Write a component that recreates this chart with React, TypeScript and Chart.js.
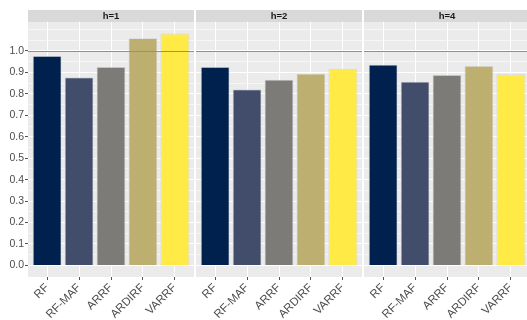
import React, { useEffect, useRef } from 'react';
import { Chart, registerables } from 'chart.js';

Chart.register(...registerables);

const categories = ['RF', 'RF-MAF', 'ARRF', 'ARDIRF', 'VARRF'];
const panelTitles = ['h=1', 'h=2', 'h=4'];
const valuesH1 = [0.977, 0.877, 0.925, 1.059, 1.081];
const valuesH2 = [0.925, 0.821, 0.866, 0.894, 0.916];
const valuesH4 = [0.936, 0.857, 0.888, 0.930, 0.891];
const barColors = ['#00204D', '#414D6B', '#7C7B78', '#BCAF6F', '#FFEA46'];
const yTickValues = [0, 0.1, 0.2, 0.3, 0.4, 0.5, 0.6, 0.7, 0.8, 0.9, 1.0];
const yTickLabels = ['0.0', '0.1', '0.2', '0.3', '0.4', '0.5', '0.6', '0.7', '0.8', '0.9', '1.0'];
const yMinorValues = [0.05, 0.15, 0.25, 0.35, 0.45, 0.55, 0.65, 0.75, 0.85, 0.95, 1.05, 1.1];
const referenceLine = 1.0;

const panelValues = [valuesH1, valuesH2, valuesH4];

const allVals = [...valuesH1, ...valuesH2, ...valuesH4];
const dataMax = Math.max(0, ...allVals);
const dataMin = Math.min(0, ...allVals);
const span = dataMax - dataMin;
const yMin = dataMin - span * 0.05;
const yMax = dataMax + span * 0.05;

const FONT = "'Liberation Sans', Arial, Helvetica, sans-serif";
const PANEL_TOP = 22;
const STRIP_TOP = 10;
const X_AXIS_H = 43;
const Y_AXIS_W = 28;

const layoutPanels = [
  { left: 0, width: 194, showY: true },
  { left: 196, width: 166, showY: false },
  { left: 364, width: 166, showY: false },
];

function isMajor(v: number) {
  return yTickValues.some((t) => Math.abs(t - v) < 1e-6);
}

function Panel({ idx }: { idx: number }) {
  const ref = useRef<HTMLCanvasElement | null>(null);
  const cfg = layoutPanels[idx];
  useEffect(() => {
    if (!ref.current) return;
    const title = panelTitles[idx];
    const values = panelValues[idx];
    const panelPlugin = {
      id: 'panelDeco',
      beforeDraw(chart: any) {
        const { ctx, chartArea } = chart;
        ctx.save();
        ctx.fillStyle = '#EBEBEB';
        ctx.fillRect(chartArea.left, chartArea.top, chartArea.right - chartArea.left, chartArea.bottom - chartArea.top);
        ctx.fillStyle = '#D9D9D9';
        ctx.fillRect(chartArea.left, STRIP_TOP, chartArea.right - chartArea.left, chartArea.top - STRIP_TOP);
        ctx.fillStyle = '#1A1A1A';
        ctx.font = `bold 9.5px ${FONT}`;
        ctx.textAlign = 'center';
        ctx.textBaseline = 'middle';
        ctx.fillText(title, (chartArea.left + chartArea.right) / 2, (STRIP_TOP + chartArea.top) / 2 + 0.5);
        ctx.restore();
      },
      afterDatasetsDraw(chart: any) {
        const { ctx, chartArea, scales } = chart;
        const y = Math.round(scales.y.getPixelForValue(referenceLine)) + 0.5;
        ctx.save();
        ctx.strokeStyle = '#8F8F8F';
        ctx.lineWidth = 1;
        ctx.beginPath();
        ctx.moveTo(chartArea.left, y);
        ctx.lineTo(chartArea.right, y);
        ctx.stroke();
        ctx.restore();
      },
    };
    const chart = new Chart(ref.current, {
      type: 'bar',
      data: {
        datasets: [
          {
            data: values.map((v, i) => ({ x: i, y: v })) as any,
            backgroundColor: barColors,
            borderColor: 'rgba(205,205,205,0.7)',
            borderWidth: 0.8,
            barPercentage: 0.9,
            categoryPercentage: 1,
          },
        ],
      },
      options: {
        animation: false,
        responsive: false,
        maintainAspectRatio: false,
        layout: { padding: { top: PANEL_TOP, left: 0, right: 0, bottom: 0 }, autoPadding: false } as any,
        plugins: { legend: { display: false }, tooltip: { enabled: false } },
        scales: {
          x: {
            type: 'linear',
            min: -0.6,
            max: categories.length - 1 + 0.6,
            offset: false,
            afterBuildTicks: (s: any) => {
              s.ticks = categories.map((_, i) => ({ value: i }));
            },
            afterFit: (s: any) => {
              s.height = X_AXIS_H;
            },
            ticks: {
              autoSkip: false,
              maxRotation: 45,
              minRotation: 45,
              padding: 1,
              color: '#4D4D4D',
              font: { family: FONT, size: 11.5 },
              callback: (v: any) => categories[Math.round(Number(v))],
            },
            grid: {
              offset: false,
              color: '#FFFFFF',
              lineWidth: 1,
              tickColor: '#555555',
              tickLength: 3,
            },
            border: { display: false },
          } as any,
          y: {
            type: 'linear',
            min: yMin,
            max: yMax,
            afterBuildTicks: (s: any) => {
              const all = [...yTickValues, ...yMinorValues].sort((a, b) => a - b);
              s.ticks = all.map((v) => ({ value: v }));
            },
            afterFit: (s: any) => {
              s.width = cfg.showY ? Y_AXIS_W : 0;
            },
            ticks: {
              display: cfg.showY,
              autoSkip: false,
              padding: 1,
              color: '#4D4D4D',
              font: { family: FONT, size: 10.5 },
              callback: (v: any) => {
                const i = yTickValues.findIndex((t) => Math.abs(t - Number(v)) < 1e-6);
                return i >= 0 ? yTickLabels[i] : '';
              },
            },
            grid: {
              color: (c: any) => (isMajor(c.tick?.value ?? 0) ? '#FFFFFF' : 'rgba(255,255,255,0.55)'),
              lineWidth: 1,
              drawTicks: cfg.showY,
              tickLength: 3,
              tickColor: (c: any) => (isMajor(c.tick?.value ?? 0) ? '#555555' : 'rgba(0,0,0,0)'),
            },
            border: { display: false },
          } as any,
        },
      },
      plugins: [panelPlugin],
    });
    return () => chart.destroy();
  }, [idx]);
  return (
    <canvas
      ref={ref}
      width={cfg.width}
      height={320}
      style={{ position: 'absolute', left: cfg.left, top: 0, width: cfg.width, height: 320 }}
    />
  );
}

export default function App() {
  return (
    <div
      style={{
        position: 'fixed',
        left: 0,
        top: 0,
        width: 527,
        height: 320,
        overflow: 'hidden',
        background: '#FFFFFF',
      }}
    >
      {panelTitles.map((_, i) => (
        <Panel key={i} idx={i} />
      ))}
    </div>
  );
}
